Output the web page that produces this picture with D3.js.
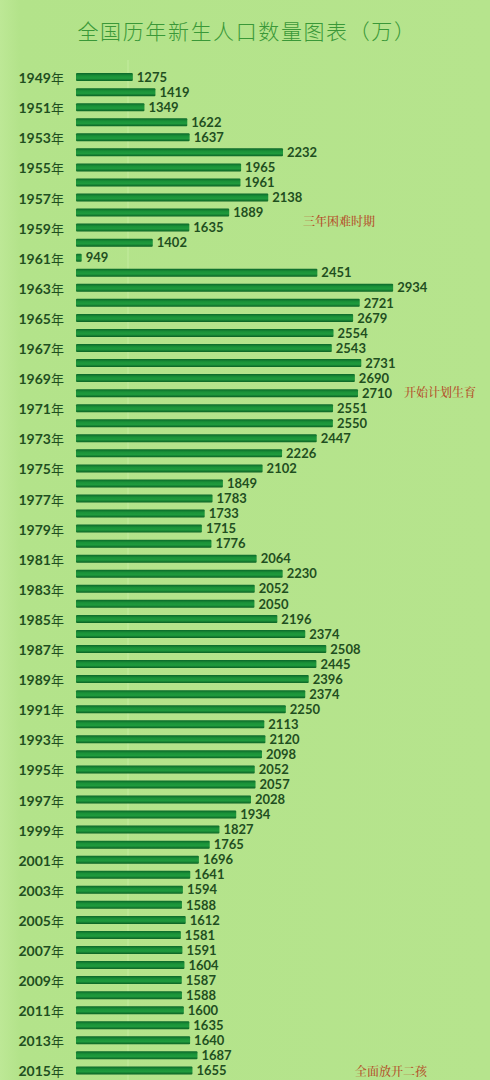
<!DOCTYPE html>
<html><head><meta charset="utf-8">
<script src="https://cdn.jsdelivr.net/npm/d3@7"></script>
<style>html,body{margin:0;padding:0;background:#b5e48c;}svg{display:block;}</style>
</head><body>
<svg id="chart" width="490" height="1080"></svg>
<script>
const title = "全国历年新生人口数量图表（万）";
const years = d3.range(1949, 2016);
const births = [1275,1419,1349,1622,1637,2232,1965,1961,2138,1889,1635,1402,949,2451,2934,2721,2679,2554,2543,2731,2690,2710,2551,2550,2447,2226,2102,1849,1783,1733,1715,1776,2064,2230,2052,2050,2196,2374,2508,2445,2396,2374,2250,2113,2120,2098,2052,2057,2028,1934,1827,1765,1696,1641,1594,1588,1612,1581,1591,1604,1587,1588,1600,1635,1640,1687,1655];
const notes = [{year:1959, text:"三年困难时期"},{year:1970, text:"开始计划生育"},{year:2015, text:"全面放开二孩"}];
const noteX = [303, 404, 355];
const noteDy = [-6, 0, 1];

const svg = d3.select("#chart");
const defs = svg.append("defs");
const bg = defs.append("linearGradient").attr("id","bg").attr("x1",0).attr("x2",1).attr("y1",0).attr("y2",0);
bg.append("stop").attr("offset","0%").attr("stop-color","#bde896");
bg.append("stop").attr("offset","4%").attr("stop-color","#b3e38a");
bg.append("stop").attr("offset","100%").attr("stop-color","#b6e48d");
svg.append("rect").attr("width",490).attr("height",1080).attr("fill","url(#bg)");
svg.append("line").attr("x1",128).attr("x2",128).attr("y1",60).attr("y2",1080).attr("stroke","#c4ec9f").attr("stroke-width",1);

const g = defs.append("linearGradient").attr("id","bar").attr("x1",0).attr("x2",0).attr("y1",0).attr("y2",1);
g.append("stop").attr("offset","0%").attr("stop-color","#0c682a");
g.append("stop").attr("offset","35%").attr("stop-color","#1a9238");
g.append("stop").attr("offset","65%").attr("stop-color","#1f9b3d");
g.append("stop").attr("offset","100%").attr("stop-color","#0a6024");

const data = years.map((y,i)=>({year:y, value:births[i]}));
const x = d3.scaleLinear().domain([900, 3000]).range([74, 403.5]);
const y = d3.scaleBand().domain(years).range([69.5, 1078]).paddingInner(0.47).paddingOuter(0.24);

svg.append("text").attr("x",247).attr("y",39).attr("text-anchor","middle")
  .attr("font-family","'Noto Sans CJK SC'").attr("font-weight",300).attr("font-size",21)
  .attr("letter-spacing",1.6).attr("fill","#3a9838").text(title);

svg.append("g").selectAll("rect").data(data).join("rect")
  .attr("x", x(900)+2).attr("y", d=>y(d.year))
  .attr("width", d=>x(d.value)-x(900)-2).attr("height", y.bandwidth())
  .attr("rx",1).attr("fill","url(#bar)");

svg.append("g").selectAll("text").data(data).join("text")
  .attr("x", d=>x(d.value)+4).attr("y", d=>y(d.year)+y.bandwidth()/2)
  .attr("dy","0.36em").attr("font-family","Lato").attr("font-weight",700).attr("font-size",13)
  .attr("fill","#1f4f1f").text(d=>d.value);

const yl = svg.append("g").selectAll("text").data(data.filter(d=>(d.year-1949)%2===0)).join("text")
  .attr("x", 64).attr("y", d=>y(d.year)+y.bandwidth()/2).attr("dy","0.38em")
  .attr("text-anchor","end").attr("fill","#1f4f1f");
yl.append("tspan").attr("font-family","Lato").attr("font-weight",700).attr("font-size",14).text(d=>d.year);
yl.append("tspan").attr("font-family","'Noto Sans CJK SC'").attr("font-weight",400).attr("font-size",13).text("年");

svg.append("g").selectAll("text").data(notes).join("text")
  .attr("x",(d,i)=>noteX[i]).attr("y",(d,i)=>y(d.year)+y.bandwidth()/2+noteDy[i]).attr("dy","0.36em")
  .attr("font-family","'Noto Serif CJK SC','Noto Sans CJK SC'").attr("font-weight",500).attr("font-size",12)
  .attr("fill","#b4502a").text(d=>d.text);
</script>
</body></html>
